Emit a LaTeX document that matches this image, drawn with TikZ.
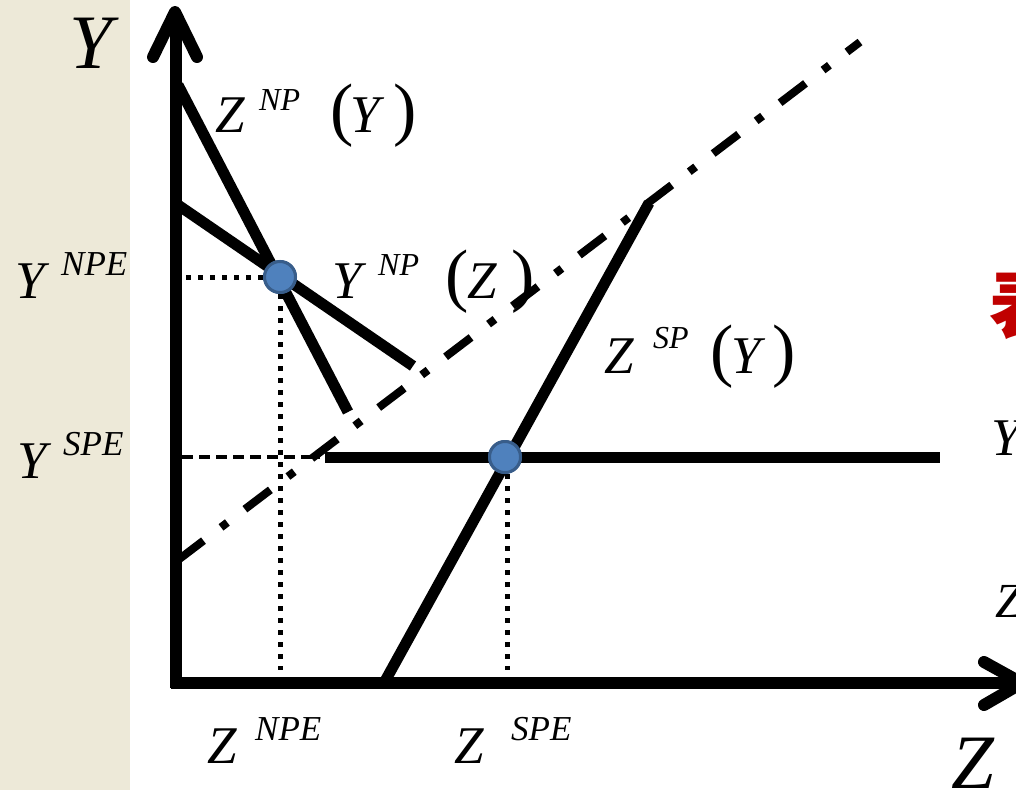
\documentclass[tikz,border=0pt]{standalone}
\usepackage{fontspec}
\setmainfont{Liberation Serif}
\newfontfamily\cjk{Noto Sans CJK SC}
\definecolor{beige}{RGB}{237,233,216}
\definecolor{ptfill}{RGB}{79,129,189}
\definecolor{ptedge}{RGB}{56,93,138}
\definecolor{redtxt}{RGB}{192,0,0}
\newcommand{\fsz}[1]{\fontsize{#1}{#1}\selectfont}
\tikzset{
  thick line/.style={line width=11pt, line cap=butt},
  axis line/.style={line width=12pt},
  tip line/.style={line width=12pt, line cap=round, line join=round},
  dashdot line/.style={line width=8pt, dash pattern=on 32pt off 22pt on 8pt off 22pt},
  dot line/.style={line width=5pt, dash pattern=on 5pt off 7pt},
  dash line/.style={line width=4pt, dash pattern=on 11pt off 6pt},
  pt/.style={circle, fill=ptfill, draw=ptedge, line width=3pt, minimum size=31pt, inner sep=0pt},
  lbl/.style={anchor=base west, inner sep=0pt, font=\itshape\fsz{53}},
  sup/.style={anchor=base west, inner sep=0pt, font=\itshape\fsz{32}},
  supe/.style={anchor=base west, inner sep=0pt, font=\itshape\fsz{35}},
  par/.style={anchor=base west, inner sep=0pt, font=\fsz{70}},
  big/.style={anchor=base west, inner sep=0pt, font=\itshape\fsz{77}}
}
\begin{document}
\begin{tikzpicture}[x=1pt, y=-1pt]
\useasboundingbox (0,0) rectangle (1016,790);
\clip (0,0) rectangle (1016,790);
\fill[white] (0,0) rectangle (1016,790);
\fill[beige] (0,0) rectangle (130,790);

% coordinates
\coordinate (znpA) at (178,85);
\coordinate (znpB) at (348,412);
\coordinate (ynpA) at (178,205);
\coordinate (ynpB) at (413,366);
\coordinate (ddA) at (178,560);
\coordinate (ddB) at (860,42);
\coordinate (zspA) at (384,683);
\coordinate (zspB) at (649,203);
\coordinate (yspeA) at (325,457);
\coordinate (yspeB) at (940,457);
\coordinate (yAxB) at (176,688);
\coordinate (yAxT) at (176,14);
\coordinate (xAxL) at (171,683);
\coordinate (xAxR) at (1014,683);

% dash-dot line
\draw[dashdot line] (ddA) -- (ddB);

% curves
\draw[thick line] (znpA) -- (znpB);
\draw[thick line] (ynpA) -- (ynpB);
\draw[thick line] (zspA) -- (zspB);
\draw[thick line] (yspeA) -- (yspeB);

% equilibrium points
\node[pt] (ne) at (280,277) {};
\node[pt] (se) at (505,457) {};

% guide lines
\coordinate (neL) at (186,277);
\coordinate (neB) at (280,670);
\coordinate (seL) at (182,457);
\coordinate (seLe) at (320,457);
\coordinate (seB) at (507,670);
\draw[dot line] (neL) -- (ne.west);
\draw[dot line] (ne.south) -- (neB);
\draw[dash line] (seL) -- (seLe);
\draw[dot line] ([xshift=2pt]se.south) -- (seB);
\node[pt] at (ne) {};
\node[pt] at (se) {};

% axes
\draw[axis line] (yAxB) -- (yAxT);
\draw[axis line] (xAxL) -- (xAxR);
\coordinate (ytl) at (153,57);
\coordinate (ytt) at (175,12);
\coordinate (ytr) at (197,57);
\draw[tip line] (ytl) -- (ytt) -- (ytr);
\coordinate (xtu) at (984,662);
\coordinate (xtt) at (1022,683);
\coordinate (xtd) at (984,705);
\draw[tip line] (xtu) -- (xtt) -- (xtd);

% axis titles
\node[big] (ylab) at (69,68) {Y};
\node[big] (zlab) at (951,788) {Z};

% Z^NP(Y)
\node[lbl] (l1a) at (215,132) {Z};
\node[sup] (l1b) at (259,110) {NP};
\node[par] (l1c) at (330,132) {(};
\node[lbl] (l1d) at (350,132) {Y};
\node[par] (l1e) at (393,132) {)};

% Y^NP(Z)
\node[lbl] (l2a) at (332,298) {Y};
\node[sup] (l2b) at (378,275) {NP};
\node[par] (l2c) at (445,298) {(};
\node[lbl] (l2d) at (467,298) {Z};
\node[par] (l2e) at (511,298) {)};

% Z^SP(Y)
\node[lbl] (l3a) at (604,373) {Z};
\node[sup] (l3b) at (653,348) {SP};
\node[par] (l3c) at (710,373) {(};
\node[lbl] (l3d) at (731,373) {Y};
\node[par] (l3e) at (772,373) {)};

% Y^NPE, Y^SPE
\node[lbl] (l4a) at (15,298) {Y};
\node[supe] (l4b) at (61,275) {NPE};
\node[lbl] (l5a) at (17,478) {Y};
\node[supe] (l5b) at (63,455) {SPE};

% Z^NPE, Z^SPE
\node[lbl] (l6a) at (207,763) {Z};
\node[supe] (l6b) at (255,740) {NPE};
\node[lbl] (l7a) at (454,763) {Z};
\node[supe] (l7b) at (511,740) {SPE};

% clipped texts at the right edge
\node[anchor=base west, inner sep=0pt, text=redtxt, font=\cjk\bfseries\fsz{75}] (red) at (989,332) {表};
\node[lbl] (ry) at (991,455) {Y};
\node[lbl, font=\itshape\fsz{49}] (rz) at (995,617) {Z};
\end{tikzpicture}
\end{document}
